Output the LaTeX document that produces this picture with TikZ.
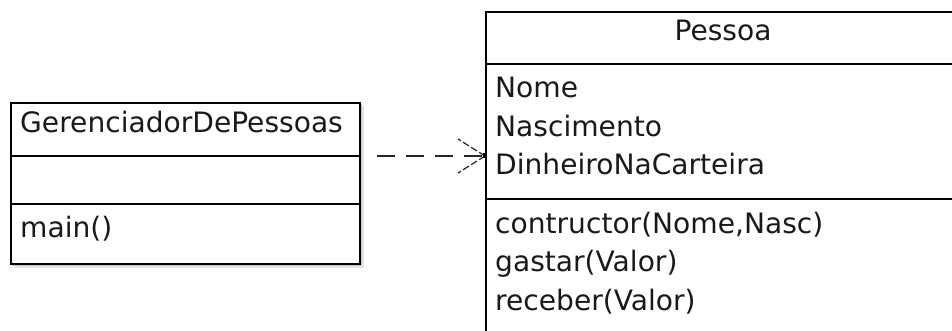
\documentclass[tikz,border=0pt]{standalone}
\usepackage{fontspec}
\setmainfont{DejaVu Sans}
\begin{document}
\begin{tikzpicture}[x=1pt,y=-1pt,
  classbox/.style={draw=black,line width=1.8pt,fill=white,rectangle,inner sep=0pt},
  sepline/.style={draw=black,line width=1.8pt},
  label/.style={inner sep=0pt,anchor=base west,text=black!90,font=\fontsize{28.1}{30}\selectfont},
  title/.style={label,anchor=base},
  depline/.style={draw=black!85,line width=1.4pt,dash pattern=on 18pt off 11pt},
  deptip/.style={draw=black!85,line width=1.2pt,dash pattern=on 7pt off 2.5pt}]
\clip (0,0) rectangle (952,331);
\fill[white] (0,0) rectangle (952,331);

% soft shadow of the manager class
\fill[black!10] (14,106) rectangle (364,268);
\fill[black!22] (12,104) rectangle (361.5,265.5);

% GerenciadorDePessoas class
\node[classbox,anchor=north west,minimum width=349pt,minimum height=161pt] (ger) at (10,102) {};
\coordinate (gsepA) at (10,156);
\coordinate (gsepB) at (10,204);
\draw[sepline] (gsepA) -- (ger.east |- gsepA);
\draw[sepline] (gsepB) -- (ger.east |- gsepB);
\node[label] (gname) at (20,133) {GerenciadorDePessoas};
\node[label] (gmain) at (20,237) {main()};

% Pessoa class (runs past the right and bottom edges)
\node[classbox,anchor=north west,minimum width=476pt,minimum height=334pt] (pes) at (485,11) {};
\coordinate (psepA) at (485,64);
\coordinate (psepB) at (485,199);
\draw[sepline] (psepA) -- (pes.east |- psepA);
\draw[sepline] (psepB) -- (pes.east |- psepB);
\node[title] (pname) at (723,41) {Pessoa};
\node[label] (pnome) at (495,98) {Nome};
\node[label] (pnasc) at (495,137) {Nascimento};
\node[label] (pdin) at (495,175) {DinheiroNaCarteira};
\node[label] (pctor) at (495,233) {contructor(Nome,Nasc)};
\node[label] (pgas) at (495,271) {gastar(Valor)};
\node[label] (prec) at (495,310) {receber(Valor)};

% dependency from the manager to Pessoa
\coordinate (dsrc) at (ger.east |- gsepA);
\coordinate (ddst) at (pes.west |- gsepA);
\draw[depline,shorten <=16pt] (dsrc) -- (ddst);
\draw[deptip] (ddst) -- ++(-27,-17);
\draw[deptip] (ddst) -- ++(-27,17);
\fill[black] ([shift={(-2.5,-2.5)}]ddst) rectangle ++(4,5);
\end{tikzpicture}
\end{document}
